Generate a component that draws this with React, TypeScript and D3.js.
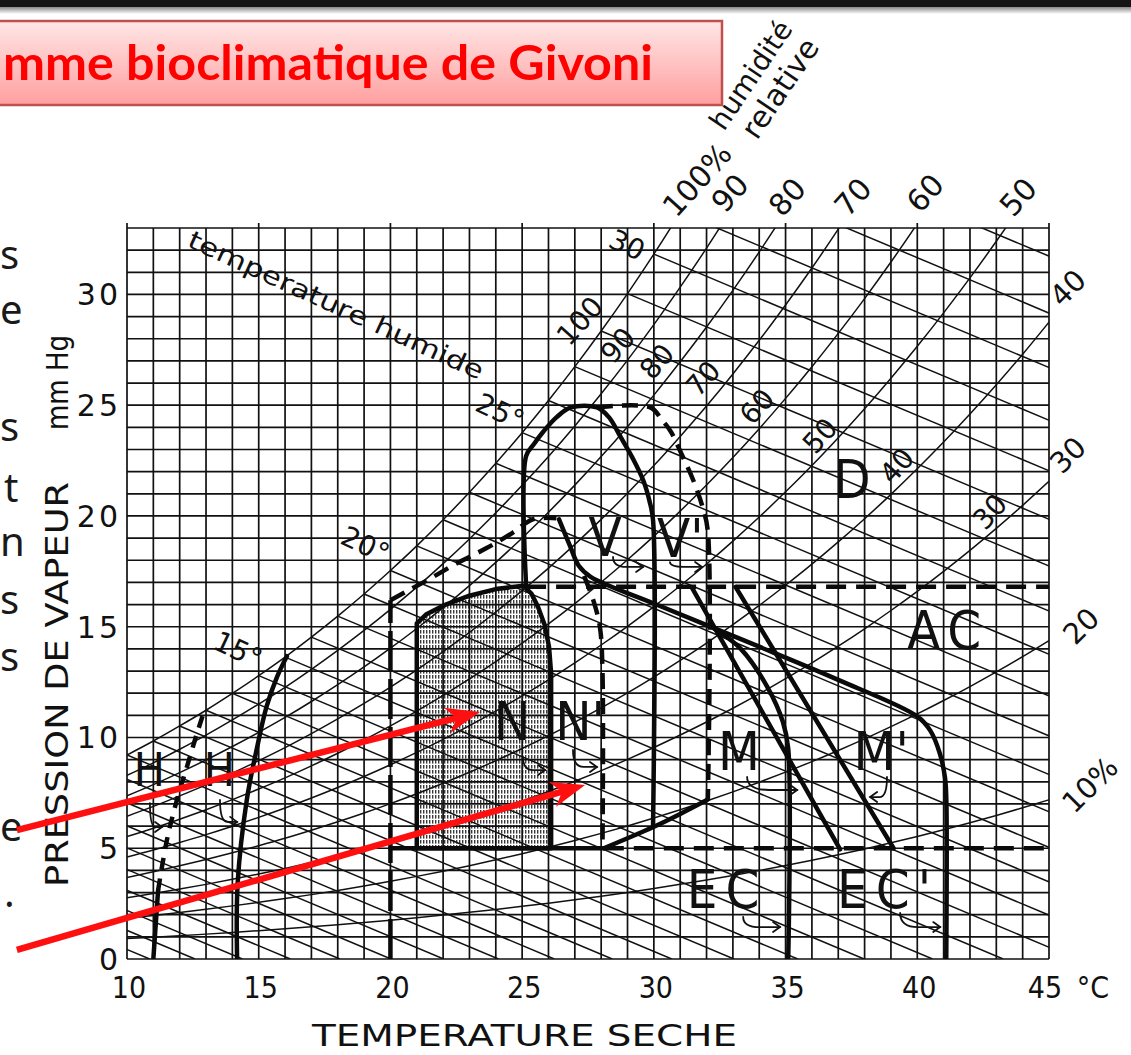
import React from "react";
import * as d3 from "d3";

// ---------- DATA ----------
// saturation vapour pressure (mm Hg) by dry temperature (°C)
const satTemps = [0,1,2,3,4,5,6,7,8,9,10,11,12,13,14,15,16,17,18,19,20,21,22,23,24,25,26,27,28,29,30,31,32,33,34,35,36,37,38,39,40,41,42,43,44,45];
const satPressure = [4.58,4.93,5.29,5.69,6.10,6.54,7.01,7.51,8.05,8.61,9.21,9.84,10.52,11.23,11.99,12.79,13.63,14.53,15.48,16.48,17.54,18.65,19.83,21.07,22.38,23.76,25.21,26.74,28.35,30.04,31.82,33.70,35.66,37.73,39.90,42.18,44.56,47.07,49.69,52.44,55.32,58.34,61.50,64.80,68.26,71.88];
const rhLevels = [100,90,80,70,60,50,40,30,20,10];
const wetBulbTemps = [1,2,3,4,5,6,7,8,9,10,11,12,13,14,15,16,17,18,19,20,21,22,23,24,25,26,27,28,29,30,31,32,33];
const PSYCHRO_SLOPE = 0.5; // mm Hg per °C along a wet-bulb line

const xTicks = [10,15,20,25,30,35,40,45];
const yTicks = [0,5,10,15,20,25,30];

const rhInnerLabels = ["100","90","80","70","60","50","40","30"];
const rhTopLabels = ["100%","90","80","70","60","50"];
const rhRightLabels = ["40","30","20","10%"];
const wetLabels = ["30","25°","20°","15°"];

// zone boundaries [T °C, e mm Hg]
const zoneN: [number,number][] = [[21,5],[21,15.15],[21.35,15.55],[22,15.95],[23,16.4],[24,16.7],[25.05,16.85],[25.35,16.5],[25.6,15.9],[25.85,15.1],[26.02,14.1],[26.1,12.9],[26.1,5]];
const zoneV: [number,number][] = [[25.15,16.85],[25.15,22.7],[25.45,23.25],[25.8,23.8],[26.3,24.45],[26.85,24.9],[27.84,24.9],[28.3,24.45],[28.72,23.6],[29.2,22.6],[29.6,21.6],[29.85,20.6],[29.97,19.8],[29.97,6.05]];
const lineVBottom: [number,number][] = [[28.1,5.0],[29,5.45],[30,5.97],[31,6.55],[32.05,7.2]];
const zoneVPrime: [number,number][] = [[27.84,24.9],[29.86,24.9],[30.3,24.35],[30.65,23.8],[31.05,22.8],[31.5,21.6],[31.85,20.4],[32.05,19.3],[32.05,7.2]];
const nPrimeTop: [number,number][] = [[20,16.2],[21.4,17.1],[22.5,17.85],[23.65,18.55],[24.65,19.25],[25.4,19.85],[26.3,19.9]];
const nPrimeRight: [number,number][] = [[27.35,17.3],[27.7,16.2],[27.95,15.0],[28.05,13],[28.05,5]];
const lineMPrime: [number,number][] = [[26.4,19.85],[26.8,18.7],[27.15,17.75],[27.6,17.25],[30,16.05],[34,14.1],[37,12.6],[40,10.95],[40.5,10.3],[40.85,9.3],[41.05,8.2],[41.1,7.3],[41.1,0]];
const lineM: [number,number][] = [[32.3,14.9],[33.3,14.0],[34.3,12.3],[34.9,10.7],[35.1,9.5],[35.1,0]];
const lineEC: [number,number][] = [[31.45,16.75],[37.07,4.95]];
const lineECPrime: [number,number][] = [[33.1,16.8],[39.1,5.0]];
const lineH: [number,number][] = [[14.18,0],[14.2,3.4],[14.55,7.2],[14.93,9.5],[15.3,11.4],[15.7,12.75],[16.07,13.67]];
const lineHPrimeSolid: [number,number][] = [[11.0,0],[11.18,3.1]];
const lineHPrimeDash: [number,number][] = [[11.18,3.1],[11.52,5.4],[11.9,7.2],[12.28,8.7],[12.66,10.2],[12.96,11.3]];
const line20: [number,number][] = [[20,0],[20,16.2]];
const lineE17: [number,number][] = [[25.15,16.8],[45,16.8]];
const lineE5Solid: [number,number][] = [[20,5],[28.1,5]];
const lineE5Dash: [number,number][] = [[28.1,5],[45,5]];

const zoneLabels = ["N","N'","V","V'","M","M'","EC","EC'","AC","D","H","H"];

// ---------- LAYOUT (data-space anchors) ----------
const rhInnerPos: [number,number][] = [[27.2,28.8],[28.64,27.7],[30.12,26.97],[31.87,26.2],[33.92,24.93],[36.31,23.62],[39.23,22.26],[42.76,20.18]];
const rhTopPos: [number,number][] = [[31.64,35.17],[32.89,34.58],[35.06,34.4],[37.56,34.4],[40.3,34.58],[43.83,34.4]];
const rhRightPos: [number,number][] = [[45.72,30.29],[45.72,22.75],[46.22,15.03],[46.56,7.86]];
const wetPos: [number,number][] = [[28.98,32.23],[24.16,24.7],[19.04,18.69],[14.21,13.95]];
const zoneLabelPos: [number,number][] = [[24.62,10.7],[27.2,10.7],[28.15,19.05],[31.0,19.0],[33.23,9.35],[38.63,9.35],[32.78,3.12],[38.89,3.12],[41.17,14.85],[37.52,21.63],[10.85,8.53],[13.5,8.53]];
const hooks: [[number,number],[number,number]][] = [
  [[25.03,9.12],[25.87,8.53]],
  [[26.93,9.44],[27.84,8.67]],
  [[28.45,18.15],[29.59,17.7]],
  [[30.61,17.92],[31.83,17.7]],
  [[33.54,8.22],[35.44,7.63]],
  [[38.85,8.22],[38.21,7.31]],
  [[33.39,1.9],[34.79,1.44]],
  [[39.35,2.08],[40.87,1.44]],
  [[10.87,7.04],[11.33,5.96]],
  [[13.53,7.18],[14.18,6.19]],
];
const arrows: [[number,number],[number,number]][] = [
  [[5.82,5.82],[23.4,11.15]],
  [[5.82,0.41],[27.39,7.86]],
];
const sideLetters = [
  { t: "s", px: 0, py: 269 },
  { t: "e", px: 0, py: 324 },
  { t: "s", px: 0, py: 441 },
  { t: "t", px: 4, py: 502 },
  { t: "n", px: 0, py: 556 },
  { t: "s", px: 0, py: 614 },
  { t: "s", px: 0, py: 671 },
  { t: "e", px: 0, py: 841 },
  { t: ".", px: 4, py: 907 },
];

const FONT = "'DejaVu Sans', Verdana, sans-serif";
const CFONT = "'DejaVu Sans Condensed', 'Liberation Sans Narrow', 'DejaVu Sans', sans-serif";

export default function App() {
  const x = d3.scaleLinear().domain([10, 45]).range([127, 1049]);
  const y = d3.scaleLinear().domain([0, 33]).range([959, 228]);
  const lin = d3.line<[number, number]>().x((d) => x(d[0])).y((d) => y(d[1]));
  const smooth = d3
    .line<[number, number]>()
    .x((d) => x(d[0]))
    .y((d) => y(d[1]))
    .curve(d3.curveCatmullRom.alpha(0.5));
  const mono = d3
    .line<[number, number]>()
    .x((d) => x(d[0]))
    .y((d) => y(d[1]))
    .curve(d3.curveMonotoneX);

  const gridT = d3.range(10, 46);
  const gridE = d3.range(0, 34);

  const rhCurves = rhLevels.map((rh) =>
    satTemps
      .map((t, i) => [t, (satPressure[i] * rh) / 100] as [number, number])
      .filter((p) => p[0] >= 8)
  );
  const wetLines = wetBulbTemps.map((tw) => {
    const es = satPressure[satTemps.indexOf(tw)];
    return [
      [tw, es],
      [tw + es / PSYCHRO_SLOPE, 0],
    ] as [number, number][];
  });

  const hookPaths = hooks.map(([s, e]) => {
    const sx = x(s[0]), sy = y(s[1]), ex = x(e[0]), ey = y(e[1]);
    const mx = sx + (ex - sx) * 0.45;
    const dir = Math.sign(ex - sx) || 1;
    return {
      body: `M${sx},${sy} Q${sx},${ey} ${mx},${ey} L${ex},${ey}`,
      head: `M${ex - 7 * dir},${ey - 5} L${ex},${ey} L${ex - 7 * dir},${ey + 5}`,
    };
  });

  const arrowShapes = arrows.map(([a, b]) => {
    const ax = x(a[0]), ay = y(a[1]), bx = x(b[0]), by = y(b[1]);
    const L = Math.hypot(bx - ax, by - ay);
    const ux = (bx - ax) / L, uy = (by - ay) / L;
    const nx = -uy, ny = ux;
    const head = [
      [bx, by],
      [bx - 34 * ux + 13 * nx, by - 34 * uy + 13 * ny],
      [bx - 24 * ux, by - 24 * uy],
      [bx - 34 * ux - 13 * nx, by - 34 * uy - 13 * ny],
    ]
      .map((p) => p.join(","))
      .join(" ");
    return { ax, ay, lx: bx - 24 * ux, ly: by - 24 * uy, head };
  });

  const thick = { fill: "none", stroke: "#0a0a0a", strokeWidth: 4.5, strokeLinejoin: "round" as const, strokeLinecap: "round" as const };
  const dashed = { ...thick, strokeLinecap: "butt" as const, strokeDasharray: "16 9" };

  return (
    <svg
      width={1131}
      height={1055}
      viewBox="0 0 1131 1055"
      style={{ position: "absolute", left: 0, top: 0, background: "#fff", display: "block" }}
    >
      <defs>
        <clipPath id="plotClip">
          <rect x={x(10)} y={y(33)} width={x(45) - x(10)} height={y(0) - y(33)} />
        </clipPath>
        <pattern id="stipple" width="3" height="5" patternUnits="userSpaceOnUse">
          <rect x="0" y="0" width="1.4" height="3.6" fill="#3a3a3a" />
        </pattern>
        <linearGradient id="titleGrad" x1="0" y1="0" x2="0" y2="1">
          <stop offset="0" stopColor="#ffe6e6" />
          <stop offset="1" stopColor="#ff9f9f" />
        </linearGradient>
        <linearGradient id="barShadow" x1="0" y1="0" x2="0" y2="1">
          <stop offset="0" stopColor="#777" />
          <stop offset="1" stopColor="#fff" />
        </linearGradient>
      </defs>

      <rect x={0} y={0} width={1131} height={1055} fill="#fff" />

      {/* comfort zone stipple */}
      <path d={lin(zoneN) + "Z"} fill="url(#stipple)" stroke="none" />

      {/* grid */}
      <g stroke="#111" strokeWidth={1.7}>
        {gridT.map((t) => (
          <line key={"gx" + t} x1={x(t)} x2={x(t)} y1={y(0)} y2={y(33) - (t % 5 === 0 ? 5 : 0)} />
        ))}
        {gridE.map((e) => (
          <line key={"gy" + e} x1={x(10)} x2={x(45)} y1={y(e)} y2={y(e)} />
        ))}
      </g>

      {/* psychrometric curves */}
      <g clipPath="url(#plotClip)" fill="none" stroke="#111" strokeWidth={1.5}>
        {rhCurves.map((pts, i) => (
          <path key={"rh" + i} d={mono(pts) || ""} />
        ))}
        {wetLines.map((pts, i) => (
          <path key={"wb" + i} d={lin(pts) || ""} />
        ))}
      </g>

      {/* zones */}
      <g clipPath="url(#plotClip)">
        <path d={lin(zoneN) + "Z"} {...thick} />
        <path d={smooth(zoneV) || ""} {...thick} />
        <path d={smooth(lineVBottom) || ""} {...thick} />
        <path d={smooth(zoneVPrime) || ""} {...dashed} />
        <path d={smooth(nPrimeTop) || ""} {...dashed} />
        <path d={smooth(nPrimeRight) || ""} {...dashed} />
        <path d={smooth(lineMPrime) || ""} {...thick} />
        <path d={smooth(lineM) || ""} {...thick} />
        <path d={lin(lineEC) || ""} {...thick} />
        <path d={lin(lineECPrime) || ""} {...thick} />
        <path d={smooth(lineH) || ""} {...thick} />
        <path d={lin(lineHPrimeSolid) || ""} {...thick} />
        <path d={smooth(lineHPrimeDash) || ""} {...dashed} strokeDasharray="12 9" />
        <path d={lin(line20) || ""} {...dashed} strokeDasharray="40 8" />
        <path d={lin(lineE17) || ""} {...dashed} strokeDasharray="20 10" />
        <path d={lin(lineE5Solid) || ""} {...thick} />
        <path d={lin(lineE5Dash) || ""} {...dashed} strokeDasharray="20 10" />
      </g>

      {/* hooks */}
      <g fill="none" stroke="#111" strokeWidth={1.8} strokeLinecap="round">
        {hookPaths.map((h, i) => (
          <g key={"hk" + i}>
            <path d={h.body} />
            <path d={h.head} />
          </g>
        ))}
      </g>

      {/* zone letters */}
      <g fontFamily={CFONT} fontWeight={200} fill="#111" textAnchor="middle" dominantBaseline="central">
        {zoneLabels.map((t, i) => (
          <text
            key={"zl" + i}
            x={x(zoneLabelPos[i][0])}
            y={y(zoneLabelPos[i][1])}
            fontSize={t === "H" ? 46 : 54}
            letterSpacing={t.startsWith("EC") || t === "AC" ? 8 : 0}
          >
            {t}
          </text>
        ))}
      </g>

      {/* RH / wet-bulb labels */}
      <g fontFamily={FONT} fill="#111" textAnchor="middle" dominantBaseline="central">
        {rhInnerLabels.map((t, i) => (
          <text key={"ri" + i} fontSize={28} transform={`translate(${x(rhInnerPos[i][0])},${y(rhInnerPos[i][1])}) rotate(-48)`}>
            {t}
          </text>
        ))}
        {rhTopLabels.map((t, i) => (
          <text key={"rt" + i} fontSize={30} transform={`translate(${x(rhTopPos[i][0])},${y(rhTopPos[i][1])}) rotate(-48)`}>
            {t}
          </text>
        ))}
        {rhRightLabels.map((t, i) => (
          <text key={"rr" + i} fontSize={29} transform={`translate(${x(rhRightPos[i][0])},${y(rhRightPos[i][1])}) rotate(-45)`}>
            {t}
          </text>
        ))}
        {wetLabels.map((t, i) => (
          <text key={"wl" + i} fontSize={28} transform={`translate(${x(wetPos[i][0])},${y(wetPos[i][1])}) rotate(25)`}>
            {t}
          </text>
        ))}
      </g>

      {/* curve captions */}
      <g fontFamily={FONT} fill="#111">
        <text fontSize={25} transform="translate(186,246) rotate(24.6)" textLength={322} lengthAdjust="spacingAndGlyphs">
          temperature humide
        </text>
        <text fontSize={28} transform="translate(724,132) rotate(-56)">
          humidité
        </text>
        <text fontSize={30} transform="translate(757,141) rotate(-56)">
          relative
        </text>
      </g>

      {/* axes labels */}
      <g fontFamily={CFONT} fontSize={30} fill="#111" textAnchor="middle">
        {xTicks.map((t) => (
          <text key={"xt" + t} x={x(t) + (t === 45 ? -4 : 2)} y={998}>
            {t}
          </text>
        ))}
        <text x={1093} y={998}>°C</text>
      </g>
      <g fontFamily={FONT} fontSize={30} fill="#111" textAnchor="end" letterSpacing={3}>
        {yTicks.map((t) => (
          <text key={"yt" + t} x={121} y={y(t) + 11}>
            {t}
          </text>
        ))}
      </g>
      <text
        fontFamily={FONT}
        fontSize={32}
        fill="#111"
        transform="translate(68,887) rotate(-90)"
        textLength={405}
        lengthAdjust="spacingAndGlyphs"
      >
        PRESSION DE VAPEUR
      </text>
      <text
        fontFamily={FONT}
        fontSize={30}
        fill="#111"
        transform="translate(68,430) rotate(-90)"
        textLength={95}
        lengthAdjust="spacingAndGlyphs"
      >
        mm Hg
      </text>
      <text
        fontFamily={FONT}
        fontSize={31}
        fill="#111"
        x={312}
        y={1046}
        textLength={425}
        lengthAdjust="spacingAndGlyphs"
      >
        TEMPERATURE SECHE
      </text>

      {/* slide overlay: title */}
      <rect x={-4} y={21} width={726} height={84} fill="url(#titleGrad)" stroke="#c0504d" strokeWidth={2.5} />
      <text
        x={3}
        y={80}
        fontFamily="Lato, 'Open Sans', sans-serif"
        fontWeight={700}
        fontSize={48}
        fill="#ff0000"
        textLength={650}
        lengthAdjust="spacingAndGlyphs"
      >
        mme bioclimatique de Givoni
      </text>

      {/* slide side text fragments */}
      <g fontFamily="'Noto Sans', 'Open Sans', sans-serif" fontSize={40} fill="#1a1a1a">
        {sideLetters.map((l, i) => (
          <text key={"sl" + i} x={l.px} y={l.py}>
            {l.t}
          </text>
        ))}
      </g>

      {/* red arrows */}
      <g>
        {arrowShapes.map((a, i) => (
          <g key={"ar" + i}>
            <line x1={a.ax} y1={a.ay} x2={a.lx} y2={a.ly} stroke="#ff1010" strokeWidth={6.5} />
            <polygon points={a.head} fill="#ff1010" />
          </g>
        ))}
      </g>

      {/* top bar */}
      <rect x={0} y={6} width={1131} height={8} fill="url(#barShadow)" />
      <rect x={0} y={0} width={1131} height={7} fill="#141414" />
    </svg>
  );
}
